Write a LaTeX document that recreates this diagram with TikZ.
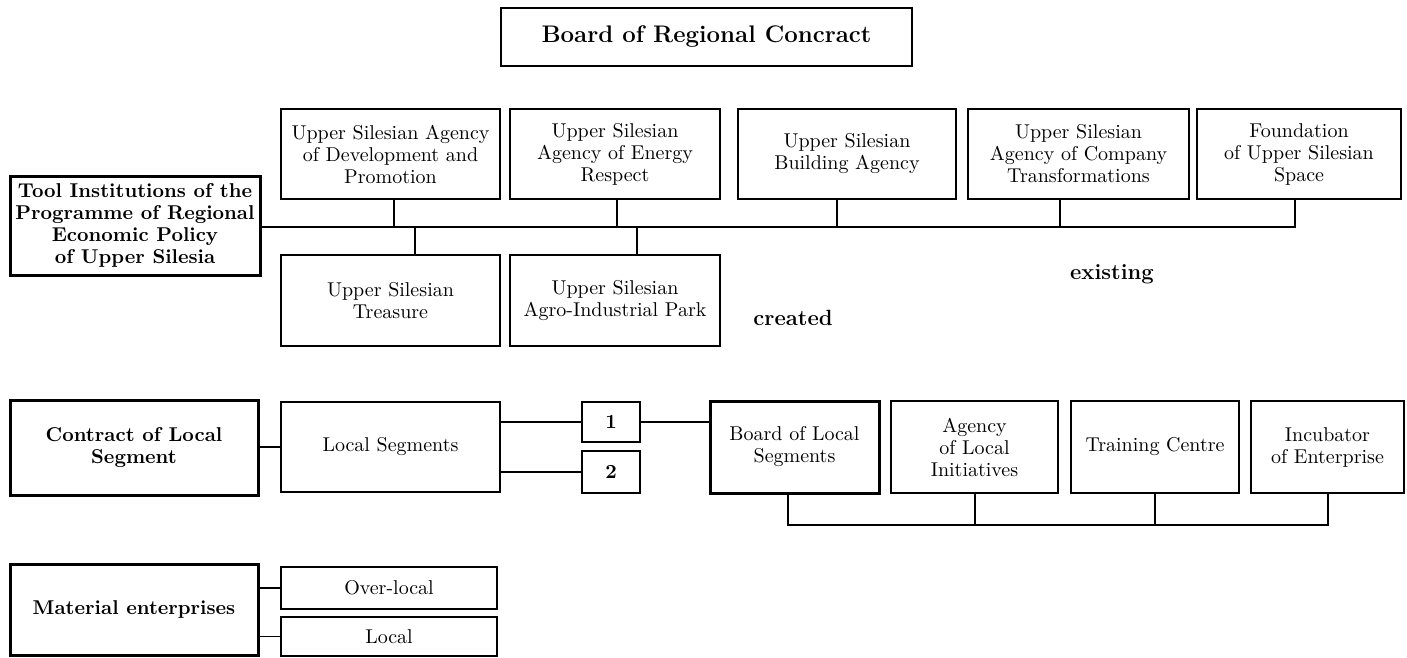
\documentclass[tikz,border=0pt]{standalone}
\begin{document}
\begin{tikzpicture}[x=0.5pt,y=-0.5pt,
  box/.style={draw,line width=0.8pt,align=center,inner sep=1pt,
    font=\fontsize{10}{11}\selectfont},
  thickbox/.style={box,line width=1.5pt,font=\fontsize{10}{11}\selectfont\bfseries},
  lbl/.style={font=\fontsize{11}{13}\selectfont\bfseries},
  conn/.style={line width=0.8pt}]
\useasboundingbox (0,0) rectangle (1407,658);
% top
\node[box,line width=1pt,font=\large\bfseries,minimum width=205.5pt,minimum height=29pt] (brc) at (706.5,37) {Board of Regional Concract};
\node[thickbox,minimum width=125pt,minimum height=49.5pt] (tool) at (135,225.5) {Tool Institutions of the\\Programme of Regional\\Economic Policy\\of Upper Silesia};
\node[box,minimum width=109.5pt,minimum height=45pt] (a1) at (390.5,154) {Upper Silesian Agency\\of Development and\\Promotion};
\node[box,minimum width=105pt,minimum height=45pt] (a2) at (615,154) {Upper Silesian\\Agency of Energy\\Respect};
\node[box,minimum width=109pt,minimum height=45pt] (a3) at (847,154) {Upper Silesian\\Building Agency};
\node[box,minimum width=110.5pt,minimum height=45pt] (a4) at (1078.5,154) {Upper Silesian\\Agency of Company\\Transformations};
\node[box,minimum width=102pt,minimum height=45pt] (a5) at (1299,154) {Foundation\\of Upper Silesian\\Space};
\node[box,minimum width=109.5pt,minimum height=45.5pt] (t1) at (390.5,300.5) {Upper Silesian\\Treasure};
\node[box,minimum width=105pt,minimum height=45.5pt] (t2) at (615,300.5) {Upper Silesian\\Agro-Industrial Park};
\node[lbl] (created) at (793,318) {created};
\node[lbl] (existing) at (1112,274) {existing};
% bus
\coordinate (busR) at (1295,227);
\coordinate (v1) at (394,227);
\coordinate (v2) at (617,227);
\coordinate (v3) at (837,227);
\coordinate (v4) at (1060,227);
\coordinate (w1) at (415,227);
\coordinate (w2) at (637,227);
\draw[conn] (tool.east |- busR) -- (busR) -- (busR |- a5.south);
\draw[conn] (v1) -- (v1 |- a1.south);
\draw[conn] (v2) -- (v2 |- a2.south);
\draw[conn] (v3) -- (v3 |- a3.south);
\draw[conn] (v4) -- (v4 |- a4.south);
\draw[conn] (w1) -- (w1 |- t1.north);
\draw[conn] (w2) -- (w2 |- t2.north);
% middle
\node[thickbox,minimum width=124pt,minimum height=47.5pt] (cls) at (134,447.5) {Contract of Local\\Segment};
\node[box,minimum width=109.5pt,minimum height=45pt] (ls) at (390.5,447) {Local Segments};
\node[box,font=\fontsize{10}{11}\selectfont\bfseries,minimum width=29pt,minimum height=20pt] (n1) at (611,422) {1};
\node[box,font=\fontsize{10}{11}\selectfont\bfseries,minimum width=29pt,minimum height=21pt] (n2) at (611,472) {2};
\node[box,line width=1.5pt,minimum width=84.5pt,minimum height=46pt] (bls) at (794.5,447) {Board of Local\\Segments};
\node[box,minimum width=83.5pt,minimum height=46pt] (ali) at (974.5,447) {Agency\\of Local\\Initiatives};
\node[box,minimum width=84pt,minimum height=46pt] (tc) at (1155,447) {Training Centre};
\node[box,minimum width=76.5pt,minimum height=46pt] (ie) at (1327.5,447) {Incubator\\of Enterprise};
\draw[conn] (cls.east |- ls.west) -- (ls.west);
\draw[conn] (n1.west -| ls.east) -- (n1.west);
\draw[conn] (n2.west -| ls.east) -- (n2.west);
\draw[conn] (n1.east) -- (bls.west |- n1.east);
\coordinate (b1) at (788,525);
\coordinate (b2) at (975,525);
\coordinate (b3) at (1155,525);
\coordinate (b4) at (1328,525);
\draw[conn] (b1 |- bls.south) -- (b1) -- (b4) -- (b4 |- ie.south);
\draw[conn] (b2 |- ali.south) -- (b2);
\draw[conn] (b3 |- tc.south) -- (b3);
% bottom
\node[thickbox,minimum width=124pt,minimum height=45.5pt] (me) at (134,609.5) {Material enterprises};
\node[box,minimum width=108pt,minimum height=21pt] (ol) at (389,588) {Over-local};
\node[box,minimum width=108pt,minimum height=19.5pt] (lo) at (389,636.5) {Local};
\draw[conn] (ol.west -| me.east) -- (ol.west);
\draw[conn] (lo.west -| me.east) -- (lo.west);
\end{tikzpicture}
\end{document}
